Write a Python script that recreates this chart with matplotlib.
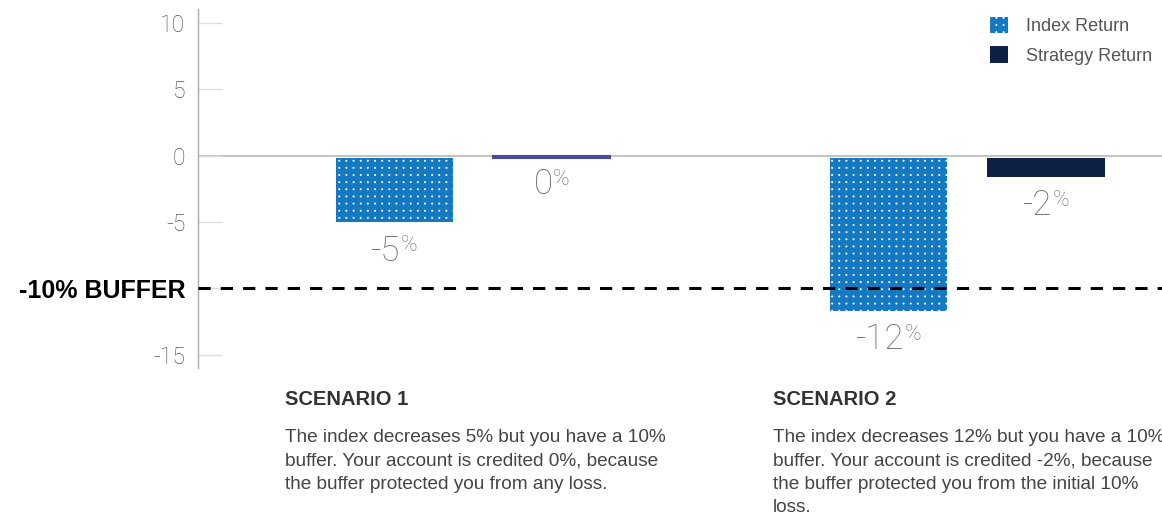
import numpy as np
import matplotlib
matplotlib.use("Agg")
import matplotlib.pyplot as plt
import matplotlib.hatch as mhatch
import matplotlib.patches as mpatches
from matplotlib.path import Path
from matplotlib.font_manager import FontProperties

# ---------------- data ----------------
scenarios = ["SCENARIO 1", "SCENARIO 2"]
series_names = ["Index Return", "Strategy Return"]
index_return = [-5.0, -11.7]
strategy_return = [0.0, -1.6]
y_ticks = [10, 5, 0, -5, -10, -15]
y_tick_labels = ["10", "5", "0", "-5", "-10% BUFFER", "-15"]
buffer_level = -10
descriptions = [
    ["The index decreases 5% but you have a 10%",
     "buffer. Your account is credited 0%, because",
     "the buffer protected you from any loss."],
    ["The index decreases 12% but you have a 10%",
     "buffer. Your account is credited -2%, because",
     "the buffer protected you from the initial 10%",
     "loss."],
]

# ---------------- styles ----------------
W, H, DPI = 1162, 523, 100
INDEX_COLOR = "#1479c1"
STRAT_COLOR = "#0e2145"
ZERO_BAR_EDGE = "#4b4a9a"
TICK_COLOR = "#555555"
VALUE_COLOR = "#6e6e6e"
LIGHT = ["Roboto", "DejaVu Sans"]
SANS = ["Liberation Sans", "DejaVu Sans"]
plt.rcParams["hatch.linewidth"] = 0.5


# aligned grid of small dots as hatch for '.'
class GridDots(mhatch.HatchPatternBase):
    size = 0.09

    def __init__(self, hatch, density):
        self.num_rows = hatch.count(".") * 7
        circ = Path.unit_circle()
        self.shape_vertices = circ.vertices
        self.shape_codes = circ.codes
        self.num_vertices = self.num_rows ** 2 * len(self.shape_vertices)

    def set_vertices_and_codes(self, vertices, codes):
        n = self.num_rows
        off = 1.0 / n
        sv = self.shape_vertices * off * self.size
        pv, pc = [], []
        for r in range(n):
            for c in range(n):
                pv.append(sv + [(c + 0.5) * off, (r + 0.5) * off])
                pc.append(self.shape_codes)
        np.concatenate(pv, out=vertices)
        np.concatenate(pc, out=codes)


mhatch._hatch_types = [t for t in mhatch._hatch_types
                       if t is not mhatch.SmallFilledCircles] + [GridDots]

fig = plt.figure(figsize=(W / DPI, H / DPI), dpi=DPI)
ax = fig.add_axes([198 / W, 1 - 368 / H, 1 - 198 / W, 359 / H])

x = np.arange(len(scenarios))
bar_w = 0.237
offs = 0.159
gap = 0.17

ax.bar(x - offs, np.array(index_return) + gap, bottom=-gap, width=bar_w,
       color=INDEX_COLOR, hatch="..", edgecolor="white", linewidth=0, zorder=2)
strat_edges = [ZERO_BAR_EDGE if v == 0 else STRAT_COLOR for v in strategy_return]
strat_lw = [1.5 if v == 0 else 0 for v in strategy_return]
ax.bar(x + offs, np.array(strategy_return) + gap, bottom=-gap, width=bar_w,
       color=STRAT_COLOR, edgecolor=strat_edges, linewidth=strat_lw, zorder=2)

ax.axhline(0, color="#c4c4c4", lw=1.5, zorder=1)
ax.axhline(buffer_level, color="black", lw=2.2, dashes=(4, 3.3), zorder=3)

ax.set_xlim(-0.5562, 1.3936)
ax.set_ylim(-16.0, 11.06)
ax.set_xticks([])
for s in ["top", "right", "bottom"]:
    ax.spines[s].set_visible(False)
ax.spines["left"].set_color("#aaaaaa")
ax.spines["left"].set_linewidth(1.0)

ax.set_yticks(y_ticks)
ax.set_yticklabels(y_tick_labels)
ax.tick_params(axis="y", direction="in", length=17, width=1, color="#dddddd",
               pad=9, labelcolor=TICK_COLOR, labelsize=16.5)
for lab, txt in zip(ax.get_yticklabels(), y_tick_labels):
    if "BUFFER" in txt:
        lab.set_fontfamily(SANS)
        lab.set_fontweight("bold")
        lab.set_color("black")
        lab.set_fontsize(18)
    else:
        lab.set_fontfamily(LIGHT)
        lab.set_fontweight("light")

# value labels with superscript %
renderer = fig.canvas.get_renderer()
base_off = -27.7
sup_off = 6.6
for xs, vals in ((x - offs, index_return), (x + offs, strategy_return)):
    for xi, v in zip(xs, vals):
        num = f"{round(v):d}"
        t = ax.annotate(num, (xi, v), xytext=(0, base_off), textcoords="offset points",
                        ha="left", va="baseline", fontsize=25, color=VALUE_COLOR,
                        family=LIGHT, fontweight="light", zorder=4)
        p = ax.annotate("%", (xi, v), xytext=(0, base_off + sup_off), textcoords="offset points",
                        ha="left", va="baseline", fontsize=16, color=VALUE_COLOR,
                        family=LIGHT, fontweight="light", zorder=4)
        wn = t.get_window_extent(renderer).width * 72 / DPI
        wp = p.get_window_extent(renderer).width * 72 / DPI
        tot = wn + wp
        t.xyann = (-tot / 2, base_off)
        p.xyann = (-tot / 2 + wn, base_off + sup_off)

# legend
handles = [mpatches.Patch(facecolor=INDEX_COLOR, hatch="..", edgecolor="white", linewidth=0),
           mpatches.Patch(facecolor=STRAT_COLOR, edgecolor=STRAT_COLOR, linewidth=0)]
leg = fig.legend(handles, series_names, loc="upper left",
                 bbox_to_anchor=(990 / W, 1 - 17 / H), frameon=False, borderpad=0,
                 borderaxespad=0, handlelength=1.0, handleheight=1.0,
                 handletextpad=1.0, labelspacing=0.62,
                 prop=FontProperties(family=SANS, size=13))
for tx in leg.get_texts():
    tx.set_color("#555555")

# scenario captions
for i, (title, lines) in enumerate(zip(scenarios, descriptions)):
    xl = [285, 773][i]
    fig.text(xl / W, 1 - 405 / H, title, fontsize=14.5, fontweight="bold", family=SANS,
             color="#333333", va="baseline", ha="left")
    for j, line in enumerate(lines):
        fig.text(xl / W, 1 - (442 + 23.3 * j) / H, line, fontsize=13.7, family=SANS,
                 color="#444444", va="baseline", ha="left")

fig.savefig("out.png", dpi=DPI)
